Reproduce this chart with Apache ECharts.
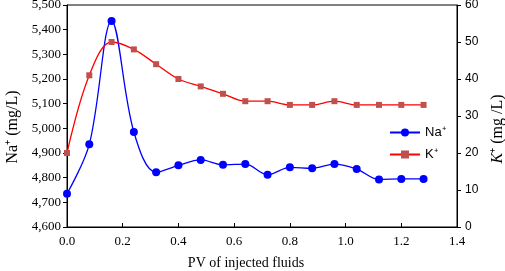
<!DOCTYPE html>
<html>
<head>
<meta charset="utf-8">
<script src="https://cdn.jsdelivr.net/npm/echarts@6/dist/echarts.min.js"></script>
<style>html,body{margin:0;padding:0;background:#fff;}#c{width:505px;height:271px;}</style>
</head>
<body>
<div id="c"></div>
<script>
var pv = [0, 0.08, 0.16, 0.24, 0.32, 0.40, 0.48, 0.56, 0.64, 0.72, 0.80, 0.88, 0.96, 1.04, 1.12, 1.20, 1.28];
var naValues = [4735, 4935, 5435, 4985, 4822, 4850, 4872, 4852, 4855, 4812, 4842, 4838, 4855, 4835, 4793, 4795, 4795];
var kValues = [20, 41, 50, 48, 44, 40, 38, 36, 34, 34, 33, 33, 34, 33, 33, 33, 33];
var naName = 'Na⁺';
var kName = 'K⁺';

function pair(xs, ys){ return xs.map(function(x,i){ return [x, ys[i]]; }); }
function comma(v){ return String(v).replace(/\B(?=(\d{3})+(?!\d))/g, ','); }

var chart = echarts.init(document.getElementById('c'), null, {renderer:'canvas'});
var serif = '"Liberation Serif","Times New Roman",serif';
var sans = '"Liberation Sans",Arial,sans-serif';
chart.setOption({
  animation: false,
  backgroundColor: '#fff',
  grid: {left: 67, right: 48, top: 5, bottom: 44, show: true, borderColor: '#000', borderWidth: 1, containLabel: false, outerBoundsMode: 'none'},
  legend: {
    orient: 'vertical', left: 384, top: 121, itemGap: 9, itemWidth: 30, itemHeight: 10,
    textStyle: {fontFamily: sans, fontSize: 13, color: '#000'},
    data: [{name: naName}, {name: kName}]
  },
  xAxis: {
    type: 'value', min: 0, max: 1.4, interval: 0.2,
    name: 'PV of injected fluids', nameLocation: 'middle', nameGap: 29,
    nameTextStyle: {fontFamily: serif, fontSize: 14, color: '#000', padding: [0, 32, 0, 0]},
    axisLine: {show: true, lineStyle: {color: '#000', width: 1}},
    axisTick: {show: true, inside: true, length: 4, lineStyle: {color: '#000'}},
    axisLabel: {fontFamily: serif, fontSize: 13, color: '#000', margin: 8, formatter: function(v){ return v.toFixed(1); }},
    splitLine: {show: false}
  },
  yAxis: [{
    type: 'value', min: 4600, max: 5500, interval: 100, position: 'left',
    name: 'Na⁺ (mg/L)', nameLocation: 'middle', nameGap: 46, nameRotate: 90,
    nameTextStyle: {fontFamily: serif, fontSize: 16, color: '#000', padding: [0, 22, 0, 0]},
    axisLine: {show: true, lineStyle: {color: '#000', width: 1}},
    axisTick: {show: true, inside: false, length: 4, lineStyle: {color: '#000'}},
    axisLabel: {fontFamily: serif, fontSize: 13, color: '#000', margin: 6, formatter: comma},
    splitLine: {show: false}
  }, {
    type: 'value', min: 0, max: 60, interval: 10, position: 'right',
    name: '{i|K}⁺ (mg /L)', nameLocation: 'middle', nameGap: 33, nameRotate: 90,
    nameTextStyle: {fontFamily: serif, fontSize: 16, color: '#000', padding: [0, 26, 0, 0], rich: {i: {fontFamily: serif, fontStyle: 'italic', fontSize: 16, color: '#000'}}},
    axisLine: {show: true, lineStyle: {color: '#000', width: 1}},
    axisTick: {show: true, inside: false, length: 4, lineStyle: {color: '#000'}},
    axisLabel: {fontFamily: sans, fontSize: 12, color: '#000', margin: 8},
    splitLine: {show: false}
  }],
  series: [{
    name: naName, type: 'line', yAxisIndex: 0, data: pair(pv, naValues),
    smooth: 0.35, symbol: 'circle', symbolSize: 8,
    lineStyle: {color: '#0000ff', width: 1.3},
    itemStyle: {color: '#0000ff'}
  }, {
    name: kName, type: 'line', yAxisIndex: 1, data: pair(pv, kValues),
    smooth: 0.35, symbol: 'rect', symbolSize: 6,
    lineStyle: {color: '#ff0000', width: 1.3},
    itemStyle: {color: '#c0504d'}
  }]
});
</script>
</body>
</html>
